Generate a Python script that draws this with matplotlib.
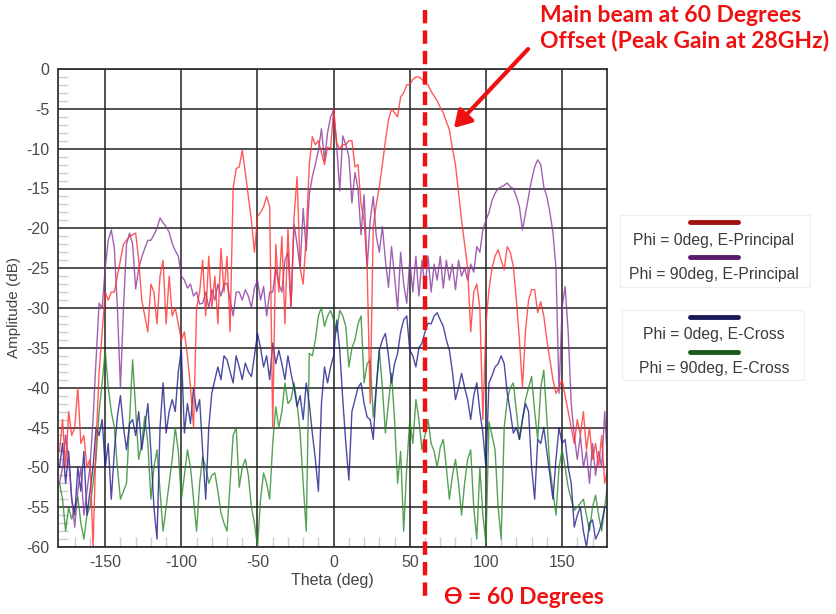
import numpy as np
import matplotlib
matplotlib.use('Agg')
import matplotlib.pyplot as plt
from matplotlib.lines import Line2D
from matplotlib.patches import Rectangle, FancyArrowPatch

# theta grid of the measurement, 2 degree steps
theta = np.arange(-180, 181, 2)

# Phi = 0deg, E-Principal (rows of 20 degrees)
phi0_principal = [
    -48, -44, -50, -43, -46, -45, -40, -47, -46, -50,
    -49, -60, -47, -38, -33, -28, -29, -28, -28, -26,
    -24, -22, -21.5, -21, -20.8, -20.6, -24, -29, -31, -33,
    -27, -28, -32, -26, -24, -32, -26, -31, -30, -32,
    -34, -33, -36, -40, -45, -30, -28, -24, -31, -23.5,
    -30, -26, -32, -22.5, -28, -23.5, -33, -15, -12.5, -12.3,
    -10.2, -13, -16, -19, -23, -18.5, -18, -17.3, -16, -17.3,
    -45, -22, -28, -21, -32, -20, -30, -18.5, -13.5, -25,
    -27, -21, -12, -8.5, -9.5, -9, -10.5, -12, -9.8, -10,
    -5, -9.3, -10, -9.5, -9.5, -9, -9, -12.3, -12, -17,
    -19, -25, -42, -19.8, -17, -14.8, -12, -9, -6.4, -5,
    -5.5, -6, -3.5, -3, -2, -2, -1.3, -1, -1, -1.3,
    -1.8, -2, -2.8, -3.4, -4, -4.8, -5.5, -6.6, -7.6, -10,
    -12, -15.5, -19, -22, -25, -33, -28, -27, -30, -44,
    -32, -27.7, -25, -23.5, -22.7, -24, -25.2, -22.3, -23, -24.8,
    -29, -34, -40, -32.8, -29, -27.7, -27.7, -30.6, -29.2, -31,
    -34, -36.5, -39, -40.7, -40, -39, -41, -43, -45, -47,
    -44, -46, -43, -47.8, -45, -49, -47, -50, -46, -52,
    -50,
]

# Phi = 90deg, E-Principal
phi90_principal = [
    -52, -50, -46, -49, -54, -57.5, -53, -50, -56, -53,
    -50, -44, -36.5, -29.4, -30, -25, -21.5, -20.2, -22.5, -30,
    -40, -30, -22, -20.6, -22, -27.6, -25, -23.6, -22.5, -21.5,
    -21.5, -20.8, -20, -18.7, -19.3, -19.8, -20.5, -21.9, -22.8, -23.5,
    -26, -26.5, -27.5, -27, -28.5, -28, -29.5, -29.4, -28, -30,
    -27.7, -29, -27, -28.5, -27, -26.9, -29, -31, -28, -28,
    -29, -27.7, -28.5, -30, -27.5, -26.5, -29, -27.3, -31, -28,
    -28, -25, -27, -28, -24, -23, -30, -19.5, -22, -25,
    -17.5, -22.8, -15.8, -13.5, -12, -10.2, -7.5, -11.5, -8, -6,
    -5.2, -9.6, -15.3, -8.4, -9.5, -11, -16.8, -13, -15, -20.8,
    -15.8, -25, -19, -16, -21, -23, -19.8, -24, -27.4, -22.3,
    -26, -30.2, -23, -27, -29.4, -24, -28, -23.5, -28.5, -24,
    -27.5, -23.5, -28, -24.5, -26.5, -23.5, -27.5, -24, -26.5, -24.5,
    -27.7, -24, -26, -25, -26.5, -24.5, -25.5, -22.3, -23, -20.2,
    -19, -18, -16.5, -15.6, -15, -14.8, -14.6, -14.3, -14.8, -15,
    -16, -17.3, -20.2, -18.1, -16, -13.9, -12.3, -11.4, -12, -14.8,
    -16, -18, -20.5, -25, -40.7, -30, -27.3, -33, -42, -46,
    -49, -46, -50, -48, -52, -47, -51, -48, -50, -43,
    -50,
]

# Phi = 0deg, E-Cross
phi0_cross = [
    -50, -47, -52, -48, -54, -56, -50, -53, -48, -56,
    -53, -50, -45, -46, -44, -50, -47, -54, -48, -43.6,
    -41, -45, -47.8, -44.5, -44, -46, -43, -47.8, -45, -42,
    -48, -55, -59, -45, -39.4, -45.7, -43, -41.5, -43, -38,
    -35.3, -45.7, -42, -44.5, -40, -43, -41.5, -48, -54, -45,
    -40.7, -39, -37.4, -39, -36, -36.5, -38, -39.4, -36, -37.4,
    -39, -36.9, -38, -38.6, -36, -33.2, -35, -37.4, -36, -39,
    -34.4, -37, -35.3, -37, -39, -36, -38.2, -40, -42.4, -41,
    -44, -39.4, -42, -45.7, -49, -53, -42, -37.4, -39.4, -37.4,
    -36, -31.5, -35.3, -41.5, -47, -51.6, -43, -41.5, -40, -39.4,
    -42, -43.7, -44, -46.5, -40, -35.3, -34, -33.2, -36, -39.4,
    -37, -35.7, -33, -31.5, -31, -35.3, -36, -37.4, -35, -34.4,
    -33, -31.9, -32, -31, -30.6, -31.5, -32.3, -34, -35.3, -38,
    -41.5, -40, -38.2, -40, -41.5, -44, -41, -39.4, -43, -45.7,
    -50, -39.4, -38.5, -37.4, -37, -36, -37, -40.7, -43, -45.7,
    -45, -46.5, -44, -42, -43, -50, -54, -46.5, -47, -45,
    -48, -51, -54, -49, -45, -47, -46.5, -50, -52, -57.5,
    -56, -55, -58, -60, -57, -56.6, -59, -58.2, -57, -55,
    -55,
]

# Phi = 90deg, E-Cross
phi90_cross = [
    -52, -54, -58, -55, -56.5, -55, -53.7, -57, -59, -56,
    -55, -52, -48.7, -43, -39.4, -35.3, -40, -43, -45, -50,
    -54, -53, -52, -44, -36.5, -42.8, -49, -47, -43.6, -47,
    -54, -50, -47.8, -53, -58, -55, -52, -49, -45, -48,
    -54, -51, -47.8, -50, -54, -58, -52, -48.7, -50, -52,
    -51, -50.7, -53, -55.7, -57, -58, -52, -46, -45, -52.5,
    -50, -49, -51, -55, -57, -60, -54, -50.7, -52, -54,
    -47, -42.4, -45, -43, -39.4, -42, -41.5, -39.4, -42, -45.7,
    -52, -58, -35.7, -36, -34, -31, -29.9, -32.3, -31, -30.3,
    -31.5, -33, -30.3, -31, -32.3, -37.4, -35, -34, -32, -31,
    -39.4, -37, -36.5, -43.7, -40, -35.3, -40, -45.7, -42, -38.2,
    -44, -52, -48, -58, -50, -44, -47, -41.5, -44, -47.8,
    -46, -44, -47, -48, -50, -47.5, -46.5, -50, -54, -51,
    -49, -52, -56, -52, -49, -47.8, -55, -59, -50, -56,
    -59.5, -44.3, -46, -47.8, -55, -59, -45, -41.5, -40, -39.4,
    -43, -46.5, -44, -41.5, -40, -38.6, -43, -46.5, -40, -37.8,
    -44, -50, -53, -56, -50, -47.8, -50, -52.5, -54, -55.4,
    -55, -54.5, -54, -56, -58, -55, -53.5, -56, -58, -55,
    -52,
]

x_ticks = [-150, -100, -50, 0, 50, 100, 150]
y_ticks = [0, -5, -10, -15, -20, -25, -30, -35, -40, -45, -50, -55, -60]

series = [
    (phi0_principal, '#ff3030', '#a01010', 'Phi = 0deg, E-Principal'),
    (phi90_principal, '#8a3aa0', '#5a1a6a', 'Phi = 90deg, E-Principal'),
    (phi0_cross, '#1e1e8c', '#1a1a5a', 'Phi = 0deg, E-Cross'),
    (phi90_cross, '#2a8a2a', '#1a5a1a', 'Phi = 90deg, E-Cross'),
]

plt.rcParams['font.family'] = ['Liberation Sans', 'DejaVu Sans']
plt.rcParams['axes.unicode_minus'] = False

fig = plt.figure(figsize=(8.37, 6.14), dpi=100)
ax = fig.add_axes([58 / 837, 1 - 547 / 614, (607 - 58) / 837, (547 - 69) / 614])

# draw cross-pol first so the principal cuts sit on top
for vals, col, _, _ in [series[3], series[2], series[1], series[0]]:
    ax.plot(theta, vals, color=col, lw=1.0, alpha=0.8)

ax.set_xlim(-181, 179.5)
ax.set_ylim(-60, 0)
ax.set_xticks(x_ticks)
ax.set_yticks(y_ticks)
ax.set_xticks(np.arange(-170, 180, 10), minor=True)
ax.set_yticks(np.arange(-60, 0, 1), minor=True)
ax.grid(True, which='major', color='#222222', lw=1.3, alpha=0.85)
ax.tick_params(which='major', length=0, labelsize=11.5, labelcolor='#4a4a4a', pad=6)
ax.tick_params(which='minor', direction='in', length=7, color='#cccccc', width=1)
for s in ax.spines.values():
    s.set_color('#333333')
    s.set_linewidth(1.3)
ax.set_xlabel('Theta (deg)', fontsize=11.5, color='#444444', labelpad=2)
ax.set_ylabel('Amplitude (dB)', fontsize=11, color='#444444', labelpad=4)


def px(x, y):
    return x / 837, 1 - y / 614


# legend boxes
for (bx, by, bw, bh) in [(620, 215, 190, 72), (622, 310, 182, 70)]:
    x0, y0 = px(bx, by + bh)
    fig.add_artist(Rectangle((x0, y0), bw / 837, bh / 614, transform=fig.transFigure,
                             facecolor='white', edgecolor='#eeeeee', lw=0.8))
legend_pos = [(222, 241), (257, 274), (317, 335), (352, 369)]
for (vals, _, lcol, label), (ly, ty) in zip(series, legend_pos):
    xa, ya = px(690, ly)
    xb, _ = px(738, ly)
    fig.add_artist(Line2D([xa, xb], [ya, ya], transform=fig.transFigure, color=lcol, lw=3.5,
                          solid_capstyle='round'))
    tx, tyf = px(714, ty)
    fig.text(tx, tyf, label, ha='center', va='center', fontsize=11.3, color='#3a3a3a')

# annotations
red = '#ee1111'
xa, ya = px(425, 10)
_, yb = px(425, 596)
fig.add_artist(Line2D([xa, xa], [ya, yb], transform=fig.transFigure, color=red, lw=3.2,
                      dashes=(3, 1.6)))
tx, ty = px(540, 5)
fig.text(tx, ty, 'Main beam at 60 Degrees\nOffset (Peak Gain at 28GHz)', ha='left', va='top',
         fontsize=16.5, fontweight='bold', color=red, family=['Lato', 'DejaVu Sans'],
         linespacing=1.2, multialignment='left')
tx, ty = px(444, 597)
fig.text(tx, ty, 'ϴ = 60 Degrees', ha='left', va='center', fontsize=16.5, fontweight='bold',
         color=red, family=['Lato', 'DejaVu Sans'])
fig.add_artist(FancyArrowPatch(px(530, 47), px(452, 130), transform=fig.transFigure,
                               arrowstyle='-|>,head_length=10,head_width=6', color=red, lw=3,
                               mutation_scale=1))

fig.savefig('out.png', dpi=100, facecolor='white')
